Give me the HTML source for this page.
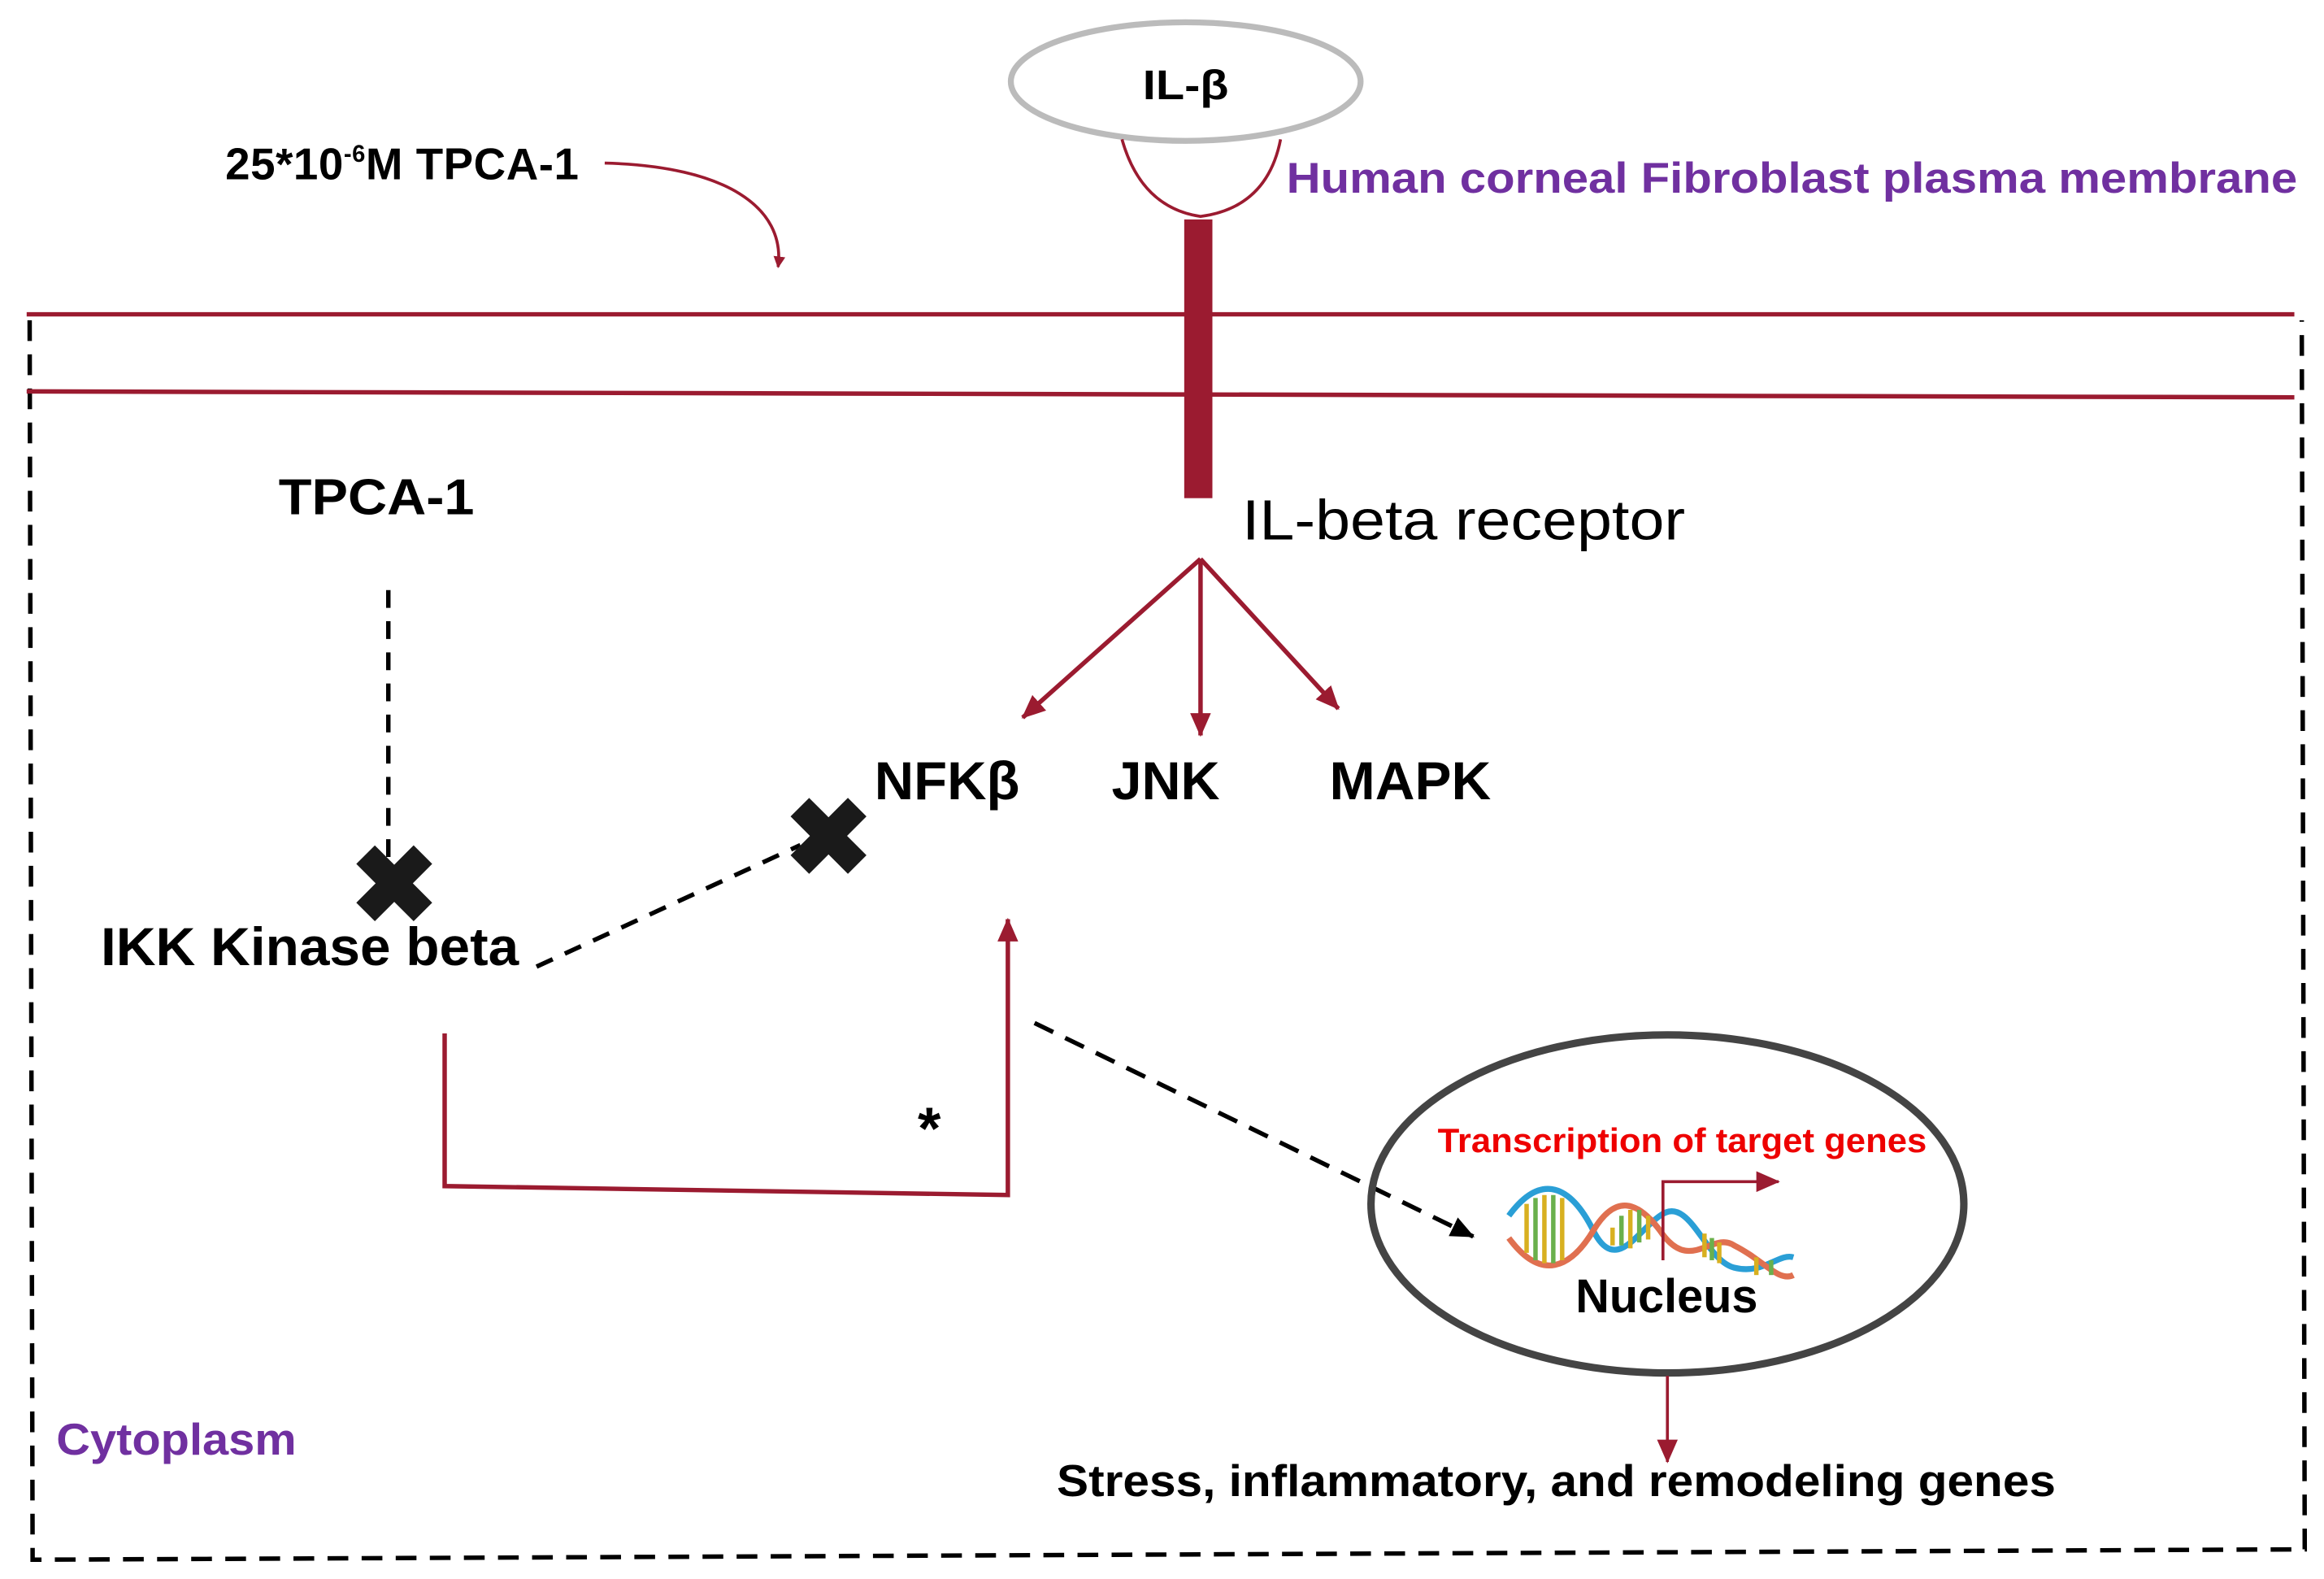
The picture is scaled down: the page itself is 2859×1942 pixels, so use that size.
<!DOCTYPE html>
<html><head><meta charset="utf-8"><style>
html,body{margin:0;padding:0;background:#fff;}
svg{display:block;}
text{font-family:"Liberation Sans",sans-serif;}
</style></head><body>
<svg width="2859" height="1942" viewBox="0 0 1568 1065" preserveAspectRatio="none" xmlns="http://www.w3.org/2000/svg">
<defs>
<marker id="ar" markerWidth="8" markerHeight="8" refX="7" refY="4" orient="auto" markerUnits="userSpaceOnUse" viewBox="0 0 8 8"><path d="M0,0 L8,4 L0,8 Z" fill="#9b1b30"/></marker>
<marker id="arL" markerWidth="16" markerHeight="14" refX="15" refY="7" orient="auto" markerUnits="userSpaceOnUse"><path d="M0,0 L16,7 L0,14 Z" fill="#9b1b30"/></marker>
<marker id="arB" markerWidth="16" markerHeight="14" refX="15" refY="7" orient="auto" markerUnits="userSpaceOnUse"><path d="M0,0 L16,7 L0,14 Z" fill="#000"/></marker>
</defs>
<path d="M20,216 L22,1052 L1555,1045 L1553,216" fill="none" stroke="#000" stroke-width="3" stroke-dasharray="14,9"/>
<line x1="18" y1="212" x2="1548" y2="212" stroke="#9b1b30" stroke-width="3"/>
<line x1="18" y1="264" x2="1548" y2="268" stroke="#9b1b30" stroke-width="3"/>
<ellipse cx="800" cy="55" rx="118" ry="40" fill="none" stroke="#bbb" stroke-width="4"/>
<text x="771" y="67" font-size="28" font-weight="bold" textLength="58" lengthAdjust="spacingAndGlyphs">IL-β</text>
<path d="M757,94 Q770,140 810,146 Q855,140 864,94" fill="none" stroke="#9b1b30" stroke-width="2"/>
<rect x="799" y="148" width="19" height="188" fill="#9b1b30"/>
<text x="838" y="364" font-size="38" textLength="299" lengthAdjust="spacingAndGlyphs">IL-beta receptor</text>
<text x="152" y="121" font-size="30" font-weight="bold" letter-spacing="0.3">25*10<tspan font-size="16" dy="-12">-6</tspan><tspan dy="12">M TPCA-1</tspan></text>
<path d="M408,110 C490,112 530,140 525,180" fill="none" stroke="#9b1b30" stroke-width="2" marker-end="url(#ar)"/>
<text x="868" y="130" font-size="29" font-weight="bold" fill="#7030a0" textLength="682" lengthAdjust="spacingAndGlyphs">Human corneal Fibroblast plasma membrane</text>
<text x="188" y="347" font-size="34" font-weight="bold" textLength="132" lengthAdjust="spacingAndGlyphs">TPCA-1</text>
<line x1="810" y1="377" x2="690" y2="484" stroke="#9b1b30" stroke-width="3" marker-end="url(#arL)"/>
<line x1="810" y1="377" x2="810" y2="496" stroke="#9b1b30" stroke-width="3" marker-end="url(#arL)"/>
<line x1="810" y1="377" x2="903" y2="478" stroke="#9b1b30" stroke-width="3" marker-end="url(#arL)"/>
<text x="590" y="539" font-size="36" font-weight="bold" textLength="98" lengthAdjust="spacingAndGlyphs">NFKβ</text>
<text x="750" y="539" font-size="36" font-weight="bold" textLength="73" lengthAdjust="spacingAndGlyphs">JNK</text>
<text x="897" y="539" font-size="36" font-weight="bold" textLength="109" lengthAdjust="spacingAndGlyphs">MAPK</text>
<line x1="262" y1="398" x2="262" y2="582" stroke="#000" stroke-width="3" stroke-dasharray="12,9"/>
<text x="68" y="651" font-size="36" font-weight="bold" textLength="282" lengthAdjust="spacingAndGlyphs">IKK Kinase beta</text>
<line x1="362" y1="652" x2="540" y2="570" stroke="#000" stroke-width="3" stroke-dasharray="12,9"/>
<text x="266" y="622" font-size="72" font-weight="bold" text-anchor="middle" fill="#1a1a1a">✖</text>
<text x="559" y="590" font-size="72" font-weight="bold" text-anchor="middle" fill="#1a1a1a">✖</text>
<path d="M300,697 L300,800 L680,806 L680,620" fill="none" stroke="#9b1b30" stroke-width="3" marker-end="url(#arL)"/>
<text x="627" y="775" font-size="40" font-weight="bold" text-anchor="middle">*</text>
<line x1="698" y1="690" x2="994" y2="834" stroke="#000" stroke-width="3" stroke-dasharray="14,9" marker-end="url(#arB)"/>
<ellipse cx="1125" cy="812" rx="200" ry="114" fill="none" stroke="#444" stroke-width="5"/>
<text x="970" y="777" font-size="23" font-weight="bold" fill="#e00" textLength="330" lengthAdjust="spacingAndGlyphs">Transcription of target genes</text>
<g stroke-width="4" fill="none">
<path d="M1018,820 C1040,790 1060,800 1075,830 C1090,860 1105,830 1120,820 C1140,805 1150,850 1170,855 C1190,860 1200,845 1210,848" stroke="#2a9fd6"/>
<path d="M1018,835 C1040,865 1060,855 1075,830 C1090,805 1105,810 1120,830 C1140,860 1155,830 1170,840 C1190,850 1200,865 1210,860" stroke="#e07050"/>
<g stroke="#d8b020" stroke-width="3"><line x1="1030" y1="812" x2="1030" y2="845"/><line x1="1042" y1="806" x2="1042" y2="852"/><line x1="1054" y1="808" x2="1054" y2="850"/><line x1="1088" y1="828" x2="1088" y2="840"/><line x1="1100" y1="816" x2="1100" y2="842"/><line x1="1112" y1="820" x2="1112" y2="836"/><line x1="1150" y1="832" x2="1150" y2="848"/><line x1="1160" y1="838" x2="1160" y2="852"/><line x1="1185" y1="848" x2="1185" y2="860"/></g>
<g stroke="#6ab04c" stroke-width="3"><line x1="1036" y1="808" x2="1036" y2="850"/><line x1="1048" y1="806" x2="1048" y2="852"/><line x1="1094" y1="820" x2="1094" y2="840"/><line x1="1106" y1="816" x2="1106" y2="838"/><line x1="1155" y1="835" x2="1155" y2="850"/><line x1="1195" y1="850" x2="1195" y2="860"/></g>
</g>
<path d="M1122,850 L1122,797 L1200,797" fill="none" stroke="#9b1b30" stroke-width="2" marker-end="url(#arL)"/>
<text x="1063" y="885" font-size="32" font-weight="bold" textLength="123" lengthAdjust="spacingAndGlyphs">Nucleus</text>
<line x1="1125" y1="928" x2="1125" y2="986" stroke="#9b1b30" stroke-width="2" marker-end="url(#arL)"/>
<text x="713" y="1009" font-size="30" font-weight="bold" textLength="674" lengthAdjust="spacingAndGlyphs">Stress, inflammatory, and remodeling genes</text>
<text x="38" y="981" font-size="30" font-weight="bold" fill="#7030a0" textLength="162" lengthAdjust="spacingAndGlyphs">Cytoplasm</text>
</svg>
</body></html>
